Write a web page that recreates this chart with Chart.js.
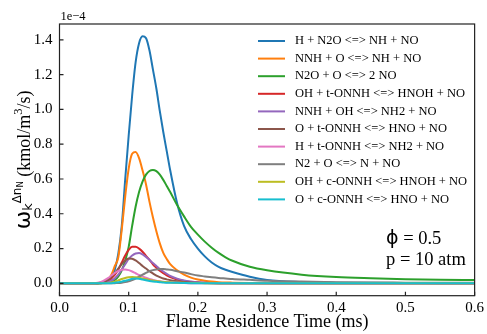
<!DOCTYPE html>
<html>
<head>
<meta charset="utf-8">
<script src="https://cdn.jsdelivr.net/npm/chart.js@4.4.1/dist/chart.umd.min.js"></script>
<style>
  html, body { margin: 0; padding: 0; background: #fff; }
  #wrap { width: 487px; height: 334px; }
</style>
</head>
<body>
<div id="wrap"><canvas id="myChart" width="487" height="334"></canvas></div>
<script>
// data (values in units of 1e-4 kmol/m3/s)
const time = [0, .05, .06, .07, .075, .08, .085, .09, .095, .1, .105, .11, .115, .12, .125, .13, .135, .14, .145, .15, .155, .16, .17, .18, .19, .2, .21, .22, .23, .24, .25, .275, .3, .35, .4, .45, .5, .55, .6];

const reactions = [
  "H + N2O <=> NH + NO",
  "NNH + O <=> NH + NO",
  "N2O + O <=> 2 NO",
  "OH + t-ONNH <=> HNOH + NO",
  "NNH + OH <=> NH2 + NO",
  "O + t-ONNH <=> HNO + NO",
  "H + t-ONNH <=> NH2 + NO",
  "N2 + O <=> N + NO",
  "OH + c-ONNH <=> HNOH + NO",
  "O + c-ONNH <=> HNO + NO"
];

const hN2O = [0, 0, 0.002, 0.01, 0.03, 0.08, 0.17, 0.33, 0.6, 0.85, 1.08, 1.27, 1.38, 1.42, 1.41, 1.34, 1.23, 1.12, 0.99, 0.87, 0.76, 0.65, 0.46, 0.33, 0.255, 0.2, 0.155, 0.12, 0.095, 0.078, 0.065, 0.038, 0.02, 0.008, 0.004, 0.003, 0.002, 0.001, 0.001];
const nnhO = [0, 0, 0.002, 0.02, 0.05, 0.1, 0.15, 0.31, 0.5, 0.66, 0.745, 0.755, 0.72, 0.65, 0.57, 0.47, 0.38, 0.3, 0.23, 0.175, 0.14, 0.11, 0.075, 0.05, 0.033, 0.022, 0.015, 0.01, 0.007, 0.005, 0.004, 0.002, 0.001, 0, 0, 0, 0, 0, 0];
const n2oO = [0, 0, 0.001, 0.004, 0.01, 0.02, 0.04, 0.075, 0.13, 0.21, 0.33, 0.44, 0.525, 0.585, 0.625, 0.646, 0.652, 0.645, 0.625, 0.595, 0.56, 0.525, 0.45, 0.385, 0.325, 0.28, 0.24, 0.205, 0.175, 0.15, 0.13, 0.095, 0.075, 0.05, 0.036, 0.029, 0.024, 0.021, 0.019];
const ohTOnnh = [0, 0, 0.003, 0.015, 0.03, 0.05, 0.08, 0.12, 0.16, 0.192, 0.21, 0.21, 0.2, 0.182, 0.158, 0.135, 0.11, 0.09, 0.072, 0.058, 0.046, 0.036, 0.022, 0.013, 0.008, 0.005, 0.003, 0.002, 0.001, 0.001, 0, 0, 0, 0, 0, 0, 0, 0, 0];
const nnhOH = [0, 0, 0.001, 0.008, 0.015, 0.03, 0.05, 0.08, 0.11, 0.14, 0.16, 0.172, 0.174, 0.166, 0.152, 0.135, 0.117, 0.1, 0.083, 0.068, 0.055, 0.043, 0.027, 0.016, 0.01, 0.006, 0.004, 0.002, 0.001, 0.001, 0.001, 0, 0, 0, 0, 0, 0, 0, 0];
const oTOnnh = [0, 0, 0.003, 0.02, 0.038, 0.06, 0.085, 0.11, 0.132, 0.143, 0.142, 0.132, 0.117, 0.1, 0.085, 0.07, 0.057, 0.045, 0.036, 0.028, 0.023, 0.018, 0.012, 0.008, 0.005, 0.003, 0.002, 0.001, 0.001, 0, 0, 0, 0, 0, 0, 0, 0, 0, 0];
const hTOnnh = [0, 0.001, 0.008, 0.03, 0.045, 0.06, 0.072, 0.078, 0.08, 0.076, 0.068, 0.058, 0.048, 0.04, 0.032, 0.025, 0.02, 0.015, 0.012, 0.009, 0.007, 0.006, 0.004, 0.002, 0.001, 0.001, 0, 0, 0, 0, 0, 0, 0, 0, 0, 0, 0, 0, 0];
const n2O = [0, 0, 0, 0, 0, 0.001, 0.002, 0.004, 0.007, 0.012, 0.019, 0.028, 0.038, 0.05, 0.06, 0.07, 0.076, 0.08, 0.082, 0.082, 0.08, 0.078, 0.07, 0.062, 0.053, 0.045, 0.04, 0.035, 0.031, 0.028, 0.025, 0.02, 0.015, 0.01, 0.007, 0.005, 0.004, 0.003, 0.003];
const ohCOnnh = [0, 0, 0, 0.002, 0.005, 0.01, 0.017, 0.025, 0.031, 0.035, 0.037, 0.035, 0.032, 0.028, 0.024, 0.02, 0.016, 0.013, 0.01, 0.008, 0.007, 0.006, 0.004, 0.003, 0.002, 0.002, 0.001, 0.001, 0.001, 0, 0, 0, 0, 0, 0, 0, 0, 0, 0];
const oCOnnh = [0, 0, 0, 0, 0.001, 0.003, 0.006, 0.01, 0.015, 0.02, 0.026, 0.028, 0.026, 0.022, 0.018, 0.014, 0.011, 0.009, 0.007, 0.005, 0.004, 0.004, 0.003, 0.002, 0.001, 0.001, 0, 0, 0, 0, 0, 0, 0, 0, 0, 0, 0, 0, 0];

const series = [hN2O, nnhO, n2oO, ohTOnnh, nnhOH, oTOnnh, hTOnnh, n2O, ohCOnnh, oCOnnh];
const colors = ["#1f77b4", "#ff7f0e", "#2ca02c", "#d62728", "#9467bd", "#8c564b", "#e377c2", "#7f7f7f", "#bcbd22", "#17becf"];

const xTicks = [0, 0.1, 0.2, 0.3, 0.4, 0.5, 0.6];
const yTicks = [0, 0.2, 0.4, 0.6, 0.8, 1.0, 1.2, 1.4];

const SERIF = "'Liberation Serif', 'Times New Roman', serif";
const SANS = "'DejaVu Sans', sans-serif";

// frame, inward ticks, labels, legend, annotation
const extras = {
  id: "extras",
  afterDraw(chart) {
    const c = chart.ctx;
    const a = chart.chartArea;
    const xs = chart.scales.x, ys = chart.scales.y;
    c.save();
    c.strokeStyle = "#222";
    c.lineWidth = 1.2;
    c.strokeRect(a.left, a.top, a.right - a.left, a.bottom - a.top);
    c.beginPath();
    xTicks.forEach(v => {
      const px = xs.getPixelForValue(v);
      c.moveTo(px, a.bottom); c.lineTo(px, a.bottom - 4);
    });
    yTicks.forEach(v => {
      const py = ys.getPixelForValue(v);
      c.moveTo(a.left, py); c.lineTo(a.left + 4, py);
    });
    c.stroke();

    c.fillStyle = "#000";
    // offset text
    c.font = "12.5px " + SERIF;
    c.textAlign = "left"; c.textBaseline = "alphabetic";
    c.fillText("1e\u22124", a.left + 1, 20);

    // x title
    c.font = "18px " + SERIF;
    c.textAlign = "center";
    c.fillText("Flame Residence Time (ms)", (a.left + a.right) / 2, 327);

    // y title with sub/superscripts
    const parts = [
      { t: "\u03c9", f: "22px " + SANS, dy: 0 },
      { t: "k", f: "13px " + SANS, dy: 2 },
      { t: "\u0394n", f: "12px " + SANS, dy: -9 },
      { t: "N", f: "8.5px " + SANS, dy: -7 },
      { t: " (kmol/m", f: "18px " + SERIF, dy: 0 },
      { t: "3", f: "12.5px " + SERIF, dy: -8 },
      { t: "/s)", f: "18px " + SERIF, dy: 0 }
    ];
    let total = 0;
    parts.forEach(p => { c.font = p.f; p.w = c.measureText(p.t).width; total += p.w; });
    c.translate(30, (a.top + a.bottom) / 2);
    c.rotate(-Math.PI / 2);
    c.textAlign = "left";
    let cx = -total / 2;
    parts.forEach(p => { c.font = p.f; c.fillText(p.t, cx, p.dy); cx += p.w; });
    c.setTransform(1, 0, 0, 1, 0, 0);

    // legend
    c.font = "12.5px " + SERIF;
    c.textBaseline = "middle";
    c.textAlign = "left";
    c.lineWidth = 2;
    reactions.forEach((r, i) => {
      const y = 41 + i * 17.6;
      c.strokeStyle = colors[i];
      c.beginPath(); c.moveTo(258, y); c.lineTo(285, y); c.stroke();
      c.fillStyle = "#000";
      c.fillText(r, 295, y);
    });

    // annotation
    c.textBaseline = "alphabetic";
    c.font = "19px " + SANS;
    c.fillText("\u03d5", 386, 244);
    const phiW = c.measureText("\u03d5").width;
    c.font = "18.5px " + SERIF;
    c.fillText(" = 0.5", 386 + phiW, 244);
    c.fillText("p = 10 atm", 386, 265);
    c.restore();
  }
};

const ctx = document.getElementById("myChart");

new Chart(ctx, {
  type: "line",
  data: {
    datasets: series.map((s, i) => ({
      label: reactions[i],
      data: time.map((t, j) => ({ x: t, y: s[j] })),
      borderColor: colors[i],
      backgroundColor: colors[i],
      borderWidth: 2,
      pointRadius: 0,
      cubicInterpolationMode: "monotone",
      order: series.length - i
    }))
  },
  options: {
    responsive: false,
    animation: false,
    devicePixelRatio: 1,
    layout: { padding: { top: 24, right: 10, left: 0, bottom: 0 } },
    plugins: { legend: { display: false }, tooltip: { enabled: false } },
    scales: {
      x: {
        type: "linear",
        min: 0,
        max: 0.6,
        afterBuildTicks: s => { s.ticks = xTicks.map(v => ({ value: v })); },
        afterFit: s => { s.height = 38.3; },
        grid: { display: false, drawTicks: false },
        border: { display: false },
        ticks: {
          padding: 3,
          color: "#000",
          font: { family: SERIF, size: 15 },
          maxRotation: 0,
          callback: v => v.toFixed(1)
        }
      },
      y: {
        min: -0.071,
        max: 1.491,
        afterBuildTicks: s => { s.ticks = yTicks.map(v => ({ value: v })); },
        afterFit: s => { s.width = 59.5; },
        grid: { display: false, drawTicks: false },
        border: { display: false },
        ticks: {
          padding: 7,
          color: "#000",
          font: { family: SERIF, size: 15 },
          callback: v => v.toFixed(1)
        }
      }
    }
  },
  plugins: [extras]
});
</script>
</body>
</html>
